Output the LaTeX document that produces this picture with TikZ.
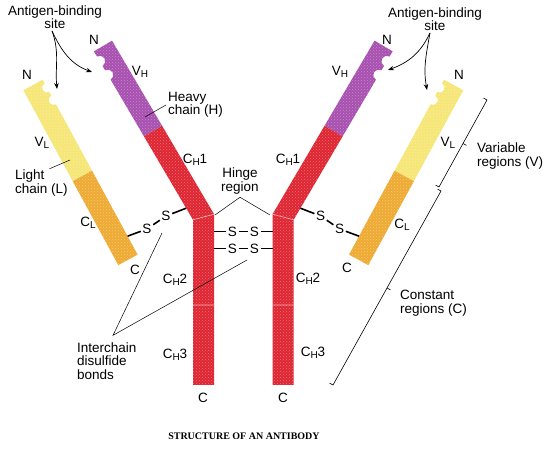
\documentclass[tikz,border=0pt]{standalone}
\usepackage{fontspec}
\setmainfont{Liberation Sans}
\newfontfamily\capfont{Liberation Serif}
\usetikzlibrary{positioning,calc,arrows.meta,patterns}

\definecolor{hred}{RGB}{222,38,50}
\definecolor{vpurple}{RGB}{168,80,176}
\definecolor{lyellow}{RGB}{246,230,118}
\definecolor{lorange}{RGB}{238,170,50}
\definecolor{seam}{RGB}{246,178,178}
\newcommand{\lowsub}[1]{\raisebox{-0.35ex}{\fontsize{10}{10}\selectfont #1}}

\begin{document}
\begin{tikzpicture}[x=1pt,y=1pt,
    lbl/.style={font=\fontsize{13.5}{13.5}\selectfont,inner sep=0pt,align=left},
    sym/.style={font=\fontsize{13.5}{13.5}\selectfont,inner sep=1.5pt},
    grain/.style={postaction={fill opacity=0.35,pattern=crosshatch dots,pattern color=white}},
    bond/.style={line width=1.6pt},
    leader/.style={line width=0.5pt},
    pointer/.style={line width=0.7pt,-{Stealth[length=6pt,width=4.5pt]}},
    brk/.style={line width=0.6pt}]
  \useasboundingbox (0,0) rectangle (560,463);
  % the two halves of the Y
  \foreach \side/\sc in {L/1,R/-1}{
    \begin{scope}[shift={(243.3,0)},xscale=\sc]
      % light chain
      \begin{scope}[shift={(-210.3,378)},rotate=28.5]
        \fill[lyellow,grain] (-11,0) -- (11,0) -- (11,-4)
          arc[start angle=90,end angle=270,radius=5] -- (11,-18)
          arc[start angle=90,end angle=270,radius=5] -- (11,-103.5)
          -- (-11,-103.5) -- cycle;
        \fill[lorange,grain] (-11,-103.5) rectangle (11,-199);
        \coordinate (lb-\side) at (11,-178);
      \end{scope}
      % heavy chain, arm
      \begin{scope}[shift={(-140.3,417)},rotate=30.45]
        \fill[vpurple,grain] (-10.5,0) -- (10.5,0) -- (10.5,-98.7) -- (-10.5,-98.7)
          -- (-10.5,-33) arc[start angle=-90,end angle=90,radius=5.5] -- (-10.5,-17)
          arc[start angle=-90,end angle=90,radius=5.5] -- cycle;
        \fill[hred,grain] (-10.5,-98.7) -- (10.5,-98.7) -- (10.5,-201.3) -- (-10.5,-195.4) -- cycle;
        \coordinate (hb-\side) at (-10.5,-182);
      \end{scope}
      % heavy chain, stem
      \fill[hred,grain] (-50.3,243.2) -- (-29.3,248.8) -- (-29.3,78) -- (-50.3,78) -- cycle;
      \draw[seam,line width=0.6pt] (-50.3,243.2) -- (-29.3,248.8) (-50.3,158) -- (-29.3,158);
      % S-S bond to the light chain
      \node (sa-\side) [sym] at (-96.3,234) {S};
      \node (sb-\side) [sym] at (-77.3,247) {S};
      \draw[bond] (lb-\side) -- (sa-\side) (sa-\side) -- (sb-\side) (sb-\side) -- (hb-\side);
    \end{scope}
  }
  % hinge S-S bonds
  \foreach \k/\yy in {1/231.5,2/214.5}{
    \node (ca\k) [sym] at (232.3,\yy) {S};
    \node (cb\k) [sym] at (254.3,\yy) {S};
    \coordinate (el\k) at (214,\yy);
    \coordinate (er\k) at (272.6,\yy);
    \draw[bond] (el\k) -- (ca\k) (ca\k) -- (cb\k) (cb\k) -- (er\k);
  }
  % antigen-binding sites
  \node (agL) [lbl,align=center] at (55,446) {Antigen-binding\\site};
  \node (agR) [lbl,align=center] at (435,444) {Antigen-binding\\site};
  \coordinate (tLL) at (57,374);
  \coordinate (tLH) at (92,391);
  \coordinate (tRH) at (388,393);
  \coordinate (tRL) at (427,373);
  \draw[pointer] ([shift={(-3pt,-2pt)}]agL.south) to[out=-70,in=95] (tLL);
  \draw[pointer] ([shift={(-3pt,-2pt)}]agL.south) to[out=-65,in=160] (tLH);
  \draw[pointer] ([shift={(-5pt,-2pt)}]agR.south) to[out=-115,in=20] (tRH);
  \draw[pointer] ([shift={(-5pt,-2pt)}]agR.south) to[out=-100,in=100] (tRL);
  % ends and domains
  \node (nLL) [lbl] at (27,388) {N};
  \node (nLH) [lbl] at (94,423) {N};
  \node (nRH) [lbl] at (387,423) {N};
  \node (nRL) [lbl] at (459,388) {N};
  \node (vhL) [lbl] at (140,391) {V\lowsub{H}};
  \node (vhR) [lbl] at (340,391) {V\lowsub{H}};
  \node (vlL) [lbl] at (42,320) {V\lowsub{L}};
  \node (vlR) [lbl] at (448,320) {V\lowsub{L}};
  \node (clL) [lbl] at (88,240) {C\lowsub{L}};
  \node (clR) [lbl] at (402,238) {C\lowsub{L}};
  \node (cLL) [lbl] at (135,193) {C};
  \node (cRL) [lbl] at (347,195) {C};
  \node (ch1L) [lbl] at (195,303) {C\lowsub{H}1};
  \node (ch1R) [lbl] at (288,303) {C\lowsub{H}1};
  \node (ch2L) [lbl] at (175,183) {C\lowsub{H}2};
  \node (ch2R) [lbl] at (308,184) {C\lowsub{H}2};
  \node (ch3L) [lbl] at (175,108) {C\lowsub{H}3};
  \node (ch3R) [lbl] at (313,110) {C\lowsub{H}3};
  \node (cLH) [lbl] at (203,65) {C};
  \node (cRH) [lbl] at (283,65) {C};
  % chain names
  \node (heavy) [lbl,anchor=west] at (168,358) {Heavy\\chain (H)};
  \coordinate (pH) at (145,346);
  \draw[leader] ([xshift=-2pt]heavy.west) -- (pH);
  \node (light) [lbl,anchor=west] at (15,280) {Light\\chain (L)};
  \coordinate (pL) at (70,303);
  \draw[leader] ([shift={(8pt,1pt)}]light.north) -- (pL);
  \node (hinge) [lbl,align=center] at (240,282) {Hinge\\region};
  \coordinate (kL) at (215,248);
  \coordinate (kR) at (270,248);
  \draw[leader] (kL) -- ([yshift=-3pt]hinge.south) -- (kR);
  \node (inter) [lbl,anchor=west] at (77,102) {Interchain\\disulfide\\bonds};
  \coordinate (dA) at (162,230);
  \coordinate (dB) at (247,203);
  \draw[leader] (dA) -- ([shift={(36pt,7pt)}]inter.north west) -- (dB);
  % regions
  \coordinate (vT) at (487,363);
  \coordinate (vB) at (439,276);
  \coordinate (cT) at (441,272);
  \coordinate (cB) at (333,78);
  \draw[brk] ([shift={(-3.5,1.9)}]vT) -- (vT) -- (vB) -- ([shift={(-3.5,1.9)}]vB);
  \draw[brk] ([shift={(-3.5,1.9)}]cT) -- (cT) -- (cB) -- ([shift={(-3.5,1.9)}]cB);
  \draw[brk] ($(vT)!0.5!(vB)$) -- ++(3.5,-1.9);
  \draw[brk] ($(cT)!0.5!(cB)$) -- ++(3.5,-1.9);
  \node (var) [lbl,anchor=west] at (477,307) {Variable\\regions (V)};
  \node (con) [lbl,anchor=west] at (400,160) {Constant\\regions (C)};
  % caption
  \node (cap) at (244,27) {\capfont\bfseries\fontsize{10}{12}\selectfont STRUCTURE OF AN ANTIBODY};
\end{tikzpicture}
\end{document}
